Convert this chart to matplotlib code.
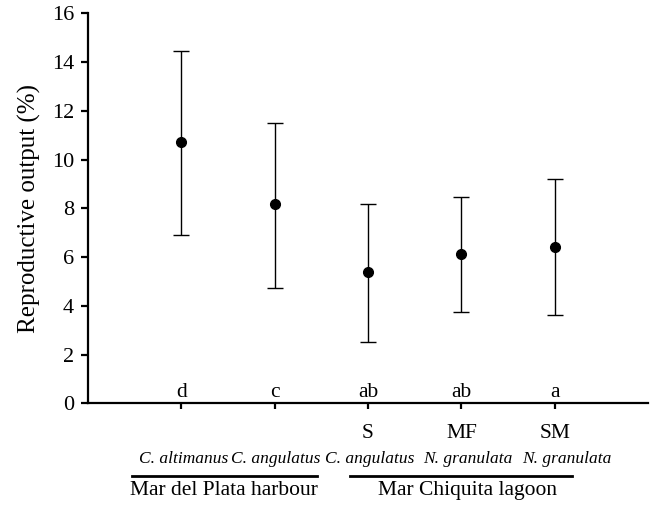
import matplotlib
matplotlib.use("Agg")
import matplotlib.pyplot as plt
from matplotlib.lines import Line2D

plt.rcParams['font.family'] = ['Liberation Serif', 'DejaVu Serif']

positions = [1, 2, 3, 4, 5]
means = [10.70, 8.16, 5.37, 6.11, 6.42]
upper = [14.44, 11.52, 8.18, 8.46, 9.19]
lower = [6.92, 4.75, 2.53, 3.73, 3.64]
letters = ["d", "c", "ab", "ab", "a"]
codes = ["", "", "S", "MF", "SM"]
species = ["C. altimanus", "C. angulatus", "C. angulatus", "N. granulata", "N. granulata"]
groups = ["Mar del Plata harbour", "Mar Chiquita lagoon"]

# layout (not data)
species_shift_px = [2, 1, 2, 6, 12]
group_spans = [(0.47, 2.45), (2.81, 5.19)]
group_text_x = [1.46, 4.07]

fig = plt.figure(figsize=(6.56, 5.12), dpi=100)
ax = fig.add_axes([0.134, 0.2123, 0.854, 0.7617])

yerr = [[m - l for m, l in zip(means, lower)], [u - m for m, u in zip(means, upper)]]
ax.errorbar(positions, means, yerr=yerr, fmt='o', color='black', ecolor='black',
            elinewidth=1.0, capsize=6, capthick=1.0, markersize=7)

ax.set_xlim(0, 6)
ax.set_ylim(0, 16)
ax.set_yticks(range(0, 17, 2))
ax.set_xticks(positions)
ax.set_xticklabels([])
ax.spines['top'].set_visible(False)
ax.spines['right'].set_visible(False)
ax.spines['left'].set_linewidth(1.6)
ax.spines['bottom'].set_linewidth(1.6)
ax.tick_params(axis='y', direction='out', length=5, width=1.6, labelsize=16, pad=5)
ax.tick_params(axis='x', direction='out', length=4, width=1.6)
ax.set_ylabel("Reproductive output (%)", fontsize=18, labelpad=8)

tr = ax.get_xaxis_transform()
for x, lt, cd, sp, sh in zip(positions, letters, codes, species, species_shift_px):
    ax.text(x, 0.25, lt, ha='center', va='baseline', fontsize=15.5)
    if cd:
        ax.text(x, -0.077, cd, transform=tr, ha='center', va='center', fontsize=15.5)
    ax.annotate(sp, xy=(x, -0.142), xycoords=tr, xytext=(sh * 0.72, 0),
                textcoords='offset points', ha='center', va='center',
                fontsize=12.5, style='italic', annotation_clip=False)

for (x0, x1), gx, g in zip(group_spans, group_text_x, groups):
    ax.add_line(Line2D([x0, x1], [-0.186, -0.186], transform=tr, color='black',
                       linewidth=2, clip_on=False))
    ax.text(gx, -0.224, g, transform=tr, ha='center', va='center', fontsize=15.5)

fig.savefig("out.png", dpi=100)
